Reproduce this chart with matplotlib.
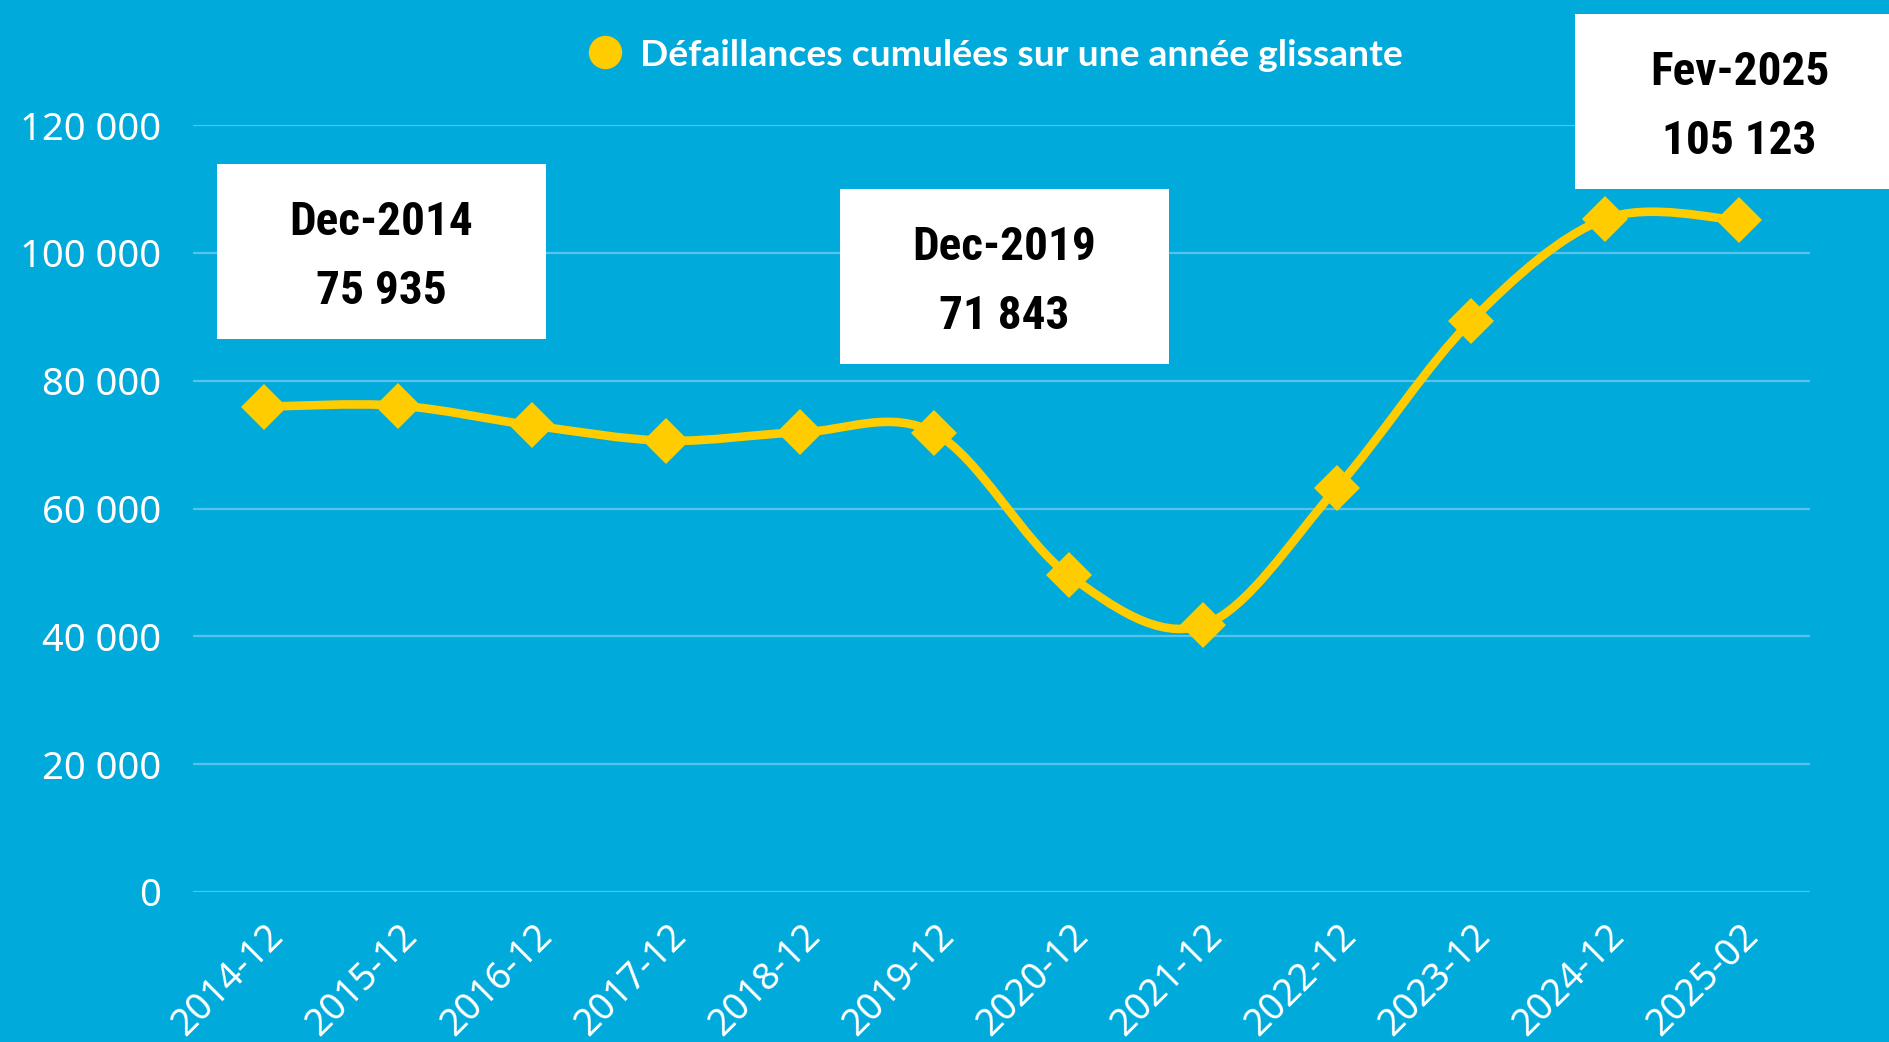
import matplotlib
matplotlib.use("Agg")
import matplotlib.pyplot as plt
from matplotlib.path import Path
from matplotlib.patches import PathPatch, Rectangle
from matplotlib.lines import Line2D
from matplotlib.ticker import FuncFormatter
from matplotlib.transforms import ScaledTranslation

# data
periods = ["2014-12", "2015-12", "2016-12", "2017-12", "2018-12", "2019-12",
           "2020-12", "2021-12", "2022-12", "2023-12", "2024-12", "2025-02"]
defaillances = [75935, 76100, 73000, 70600, 71900, 71843,
                49600, 41700, 63200, 89300, 105300, 105123]
series_label = "Défaillances cumulées sur une année glissante"
callout_idx = [0, 5, 11]
callout_names = ["Dec-2014", "Dec-2019", "Fev-2025"]

BG = "#00AADB"
YELLOW = "#FFCC00"
GRID = "#55C4E8"
W, H = 1890, 1042

fig = plt.figure(figsize=(W / 100, H / 100), dpi=100, facecolor=BG)
ax = fig.add_axes([193 / W, 1 - 892 / H, (1810 - 193) / W, (892 - 125) / H])
ax.set_facecolor(BG)

x = list(range(len(periods)))
y = defaillances

# smooth line (Catmull-Rom as cubic Bezier segments through the data points)
verts = [(x[0], y[0])]
codes = [Path.MOVETO]
n = len(x)
for i in range(n - 1):
    p0 = (x[max(i - 1, 0)], y[max(i - 1, 0)])
    p1 = (x[i], y[i])
    p2 = (x[i + 1], y[i + 1])
    p3 = (x[min(i + 2, n - 1)], y[min(i + 2, n - 1)])
    c1 = (p1[0] + (p2[0] - p0[0]) / 6, p1[1] + (p2[1] - p0[1]) / 6)
    c2 = (p2[0] - (p3[0] - p1[0]) / 6, p2[1] - (p3[1] - p1[1]) / 6)
    verts += [c1, c2, p2]
    codes += [Path.CURVE4] * 3
curve = PathPatch(Path(verts, codes), facecolor="none", edgecolor=YELLOW,
                  lw=6.2, capstyle="round", joinstyle="round", zorder=3, clip_on=False)
ax.add_patch(curve)
ax.plot(x, y, ls="none", marker="D", ms=23, mew=0, color=YELLOW, zorder=4, clip_on=False)

ax.set_xlim(-0.53, n - 1 + 0.53)
ax.set_ylim(0, 120000)
ax.set_yticks(range(0, 120001, 20000))
ax.yaxis.set_major_formatter(FuncFormatter(lambda v, p: f"{int(v):,}".replace(",", " ")))
ax.set_xticks(x)
ax.set_xticklabels(periods)

for s in ax.spines.values():
    s.set_visible(False)
ax.grid(axis="y", color=GRID, lw=1.6)
ax.set_axisbelow(True)
ax.tick_params(length=0)
ax.tick_params(axis="y", pad=23, labelsize=27.5, labelcolor="white")
ax.tick_params(axis="x", pad=0, labelsize=27, labelcolor="white")
for lab in ax.get_yticklabels():
    lab.set_family(["Noto Sans", "DejaVu Sans"])
    lab.set_fontweight("medium")
shift = ScaledTranslation(14 / 100, -38 / 100, fig.dpi_scale_trans)
for lab in ax.get_xticklabels():
    lab.set_family(["Noto Sans", "DejaVu Sans"])
    lab.set_rotation(45)
    lab.set_ha("right")
    lab.set_va("center")
    lab.set_rotation_mode("anchor")
    lab.set_transform(lab.get_transform() + shift)

# legend
handle = Line2D([], [], ls="none", marker="o", ms=24, mew=0, color=YELLOW)
leg = ax.legend([handle], [series_label], loc="center left",
                bbox_to_anchor=(586 / W, 1 - 55 / H), bbox_transform=fig.transFigure,
                frameon=False, borderpad=0, borderaxespad=0, handlelength=1.0,
                handletextpad=0.45,
                prop={"family": ["Lato", "DejaVu Sans"], "weight": "bold", "size": 26.8})
for t in leg.get_texts():
    t.set_color("white")

# callout boxes
boxes = [(217, 164), (840, 189), (1575, 14)]
bw, bh = 329, 175
for (bx, by), idx, name in zip(boxes, callout_idx, callout_names):
    fig.add_artist(Rectangle((bx / W, 1 - (by + bh) / H), bw / W, bh / H,
                             transform=fig.transFigure, facecolor="white",
                             edgecolor="none", zorder=5))
    val = f"{defaillances[idx]:,}".replace(",", " ")
    fig.text((bx + bw / 2) / W, 1 - (by + bh / 2 + 5) / H, f"{name}\n{val}",
             ha="center", va="center", multialignment="center", linespacing=1.7,
             fontsize=34, fontweight="bold", color="black", zorder=6,
             family=["Noto Sans Condensed", "Roboto Condensed", "Liberation Sans Narrow",
                     "Roboto", "DejaVu Sans"],
             fontstretch="condensed")

fig.savefig("out.png", dpi=100, facecolor=BG)
